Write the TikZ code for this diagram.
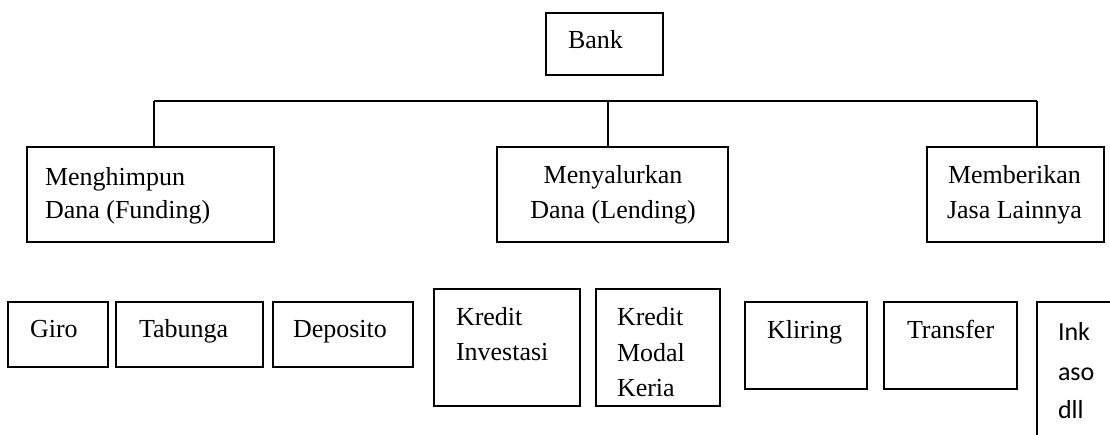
\documentclass[tikz,border=0pt]{standalone}
\usepackage{fontspec}
\setmainfont{Liberation Serif}
\newfontfamily\calfont{Carlito}
\begin{document}
\begin{tikzpicture}[x=1pt,y=-1pt,
  box/.style={draw, line width=1.5pt, inner sep=0pt, outer sep=0pt, anchor=north west},
  txt/.style={inner sep=0pt, outer sep=0pt, anchor=base west, font=\fontsize{26}{33}\selectfont},
  ctxt/.style={txt, anchor=base},
  ink/.style={inner sep=0pt, outer sep=0pt, anchor=base west, font=\calfont\fontsize{26}{39}\selectfont},
  link/.style={line width=1.5pt}]
\useasboundingbox (0,0) rectangle (1110,434);
\clip (0,0) rectangle (1110,434);
% top level
\node[box, minimum width=117pt, minimum height=62pt] (bank) at (546,13) {};
\node[txt] (tbank) at (568,48) {Bank};
% second level
\node[box, minimum width=247pt, minimum height=95pt] (fund) at (27,147) {};
\node[box, minimum width=231pt, minimum height=95pt] (lend) at (497,147) {};
\node[box, minimum width=177pt, minimum height=95pt] (jasa) at (927,147) {};
\node[txt] (tf1) at (45,185) {Menghimpun};
\node[txt] (tf2) at (45,218) {Dana (Funding)};
\node[ctxt] (tl1) at (613,183) {Menyalurkan};
\node[ctxt] (tl2) at (613,218) {Dana (Lending)};
\node[txt] (tj1) at (948,183) {Memberikan};
\node[txt] (tj2) at (947,218) {Jasa Lainnya};
% connectors
\coordinate (hL) at (154,101);
\coordinate (hM) at (608,101);
\coordinate (hR) at (1037,101);
\draw[link] (hL) -- (hR);
\draw[link] (hL) -- (hL |- fund.north);
\draw[link] (hM) -- (hM |- lend.north);
\draw[link] (hR) -- (hR |- jasa.north);
% bottom level
\node[box, minimum width=100pt, minimum height=65pt] (giro) at (8,302) {};
\node[box, minimum width=147pt, minimum height=65pt] (tab) at (116,302) {};
\node[box, minimum width=140pt, minimum height=65pt] (dep) at (273,302) {};
\node[box, minimum width=146pt, minimum height=117pt] (ki) at (434,289) {};
\node[box, minimum width=124pt, minimum height=117pt] (kmk) at (596,289) {};
\node[box, minimum width=122pt, minimum height=87pt] (kli) at (745,302) {};
\node[box, minimum width=133pt, minimum height=87pt] (tra) at (884,302) {};
\node[box, minimum width=120pt, minimum height=170pt] (inkbox) at (1037,302) {};
\node[txt] (tgiro) at (30,337) {Giro};
\node[txt] (ttab) at (139,337) {Tabunga};
\node[txt] (tdep) at (293,337) {Deposito};
\node[txt] (tki1) at (456,325) {Kredit};
\node[txt] (tki2) at (456,360) {Investasi};
\node[txt] (tkm1) at (617,325) {Kredit};
\node[txt] (tkm2) at (617,361) {Modal};
\node[txt] (tkm3) at (617,396) {Keria};
\node[txt] (tkli) at (767,338) {Kliring};
\node[txt] (ttra) at (907,338) {Transfer};
\node[ink] (ti1) at (1058,340) {Ink};
\node[ink] (ti2) at (1058,380) {aso};
\node[ink] (ti3) at (1058,418) {dll};
\end{tikzpicture}
\end{document}
